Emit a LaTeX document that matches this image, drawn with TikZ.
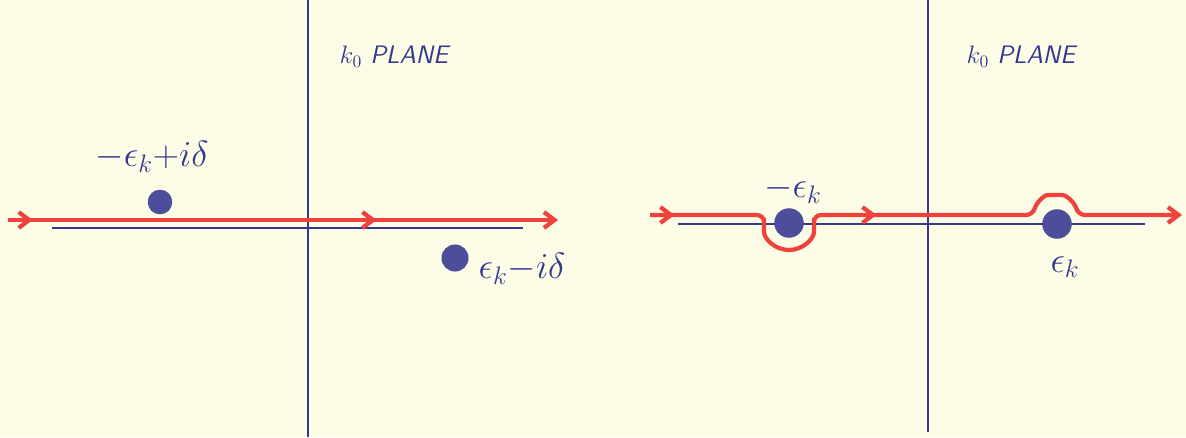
\documentclass[tikz,border=0pt]{standalone}
\usepackage{amsmath}
\usepackage{tikz}
\usetikzlibrary{arrows.meta, positioning, calc, decorations.markings}
\definecolor{papel}{RGB}{253,253,231}
\definecolor{tinta}{RGB}{52,56,140}
\definecolor{punto}{RGB}{76,78,156}
\definecolor{rojo}{RGB}{240,66,60}
\tikzset{>={Straight Barb[length=6pt,width=9pt]}}
\tikzset{
  eje/.style={tinta, line width=0.9pt},
  ejereal/.style={tinta, line width=1.2pt},
  contorno/.style={rojo, line width=2.4pt, rounded corners=4pt, ->,
    postaction={decorate}},
  polo/.style={circle, fill=punto, inner sep=0pt, minimum size=#1},
  etiqueta/.style={tinta, font=\huge},
  plano/.style={tinta, font=\Large\sffamily}
}

\begin{document}
\begin{tikzpicture}[x=0.02cm, y=0.02cm]
        \fill[papel] (0,0) rectangle (1186,437);
        \useasboundingbox (0,0) rectangle (1186,437);
        % left plane
        \draw[eje] (308,0) -- (308,437);
        \coordinate (ra) at (52,209);
        \coordinate (rb) at (523,209);
        \draw[ejereal] (ra) -- (rb);
        \node[polo=20pt*0.7] (pa) at (160,235) {};
        \node[polo=22pt*0.7] (pb) at (455,179) {};
        \node[etiqueta] (la) at (152,280) {$-\epsilon_k{+}i\delta$};
        \node[etiqueta] (lb) at (522,168) {$\epsilon_k{-}i\delta$};
        \node[plano] (ka) at (395,380) {$k_0$ \textit{PLANE}};
        \coordinate (ca) at (8,217);
        \coordinate (cb) at (558,217);
        \draw[contorno, decoration={markings,
            mark=at position 0.045 with {\arrow{>}},
            mark=at position 0.67 with {\arrow{>}}}] (ca) -- (cb);
        % right plane
        \draw[eje] (928,5) -- (928,437);
        \coordinate (rc) at (678,213);
        \coordinate (rd) at (1145,213);
        \draw[ejereal] (rc) -- (rd);
        \node[polo=24pt*0.7] (pc) at (789,214) {};
        \node[polo=24pt*0.7] (pd) at (1057,213) {};
        \node[etiqueta] (lc) at (793,247) {$-\epsilon_k$};
        \node[etiqueta] (ld) at (1065,170) {$\epsilon_k$};
        \node[plano] (kb) at (1022,380) {$k_0$ \textit{PLANE}};
        \coordinate (cc) at (650,222);
        \coordinate (cd) at (1182,222);
        \draw[contorno, decoration={markings,
            mark=at position 0.04 with {\arrow{>}},
            mark=at position 0.47 with {\arrow{>}}}]
          (cc) -- (764,222) -- (764,212)
          arc[start angle=180, end angle=360, radius=25] -- (814,222)
          -- (1033,222) to[out=75,in=180] (1055,242)
          to[out=0,in=105] (1078,222) -- (cd);
      \end{tikzpicture}
\end{document}
